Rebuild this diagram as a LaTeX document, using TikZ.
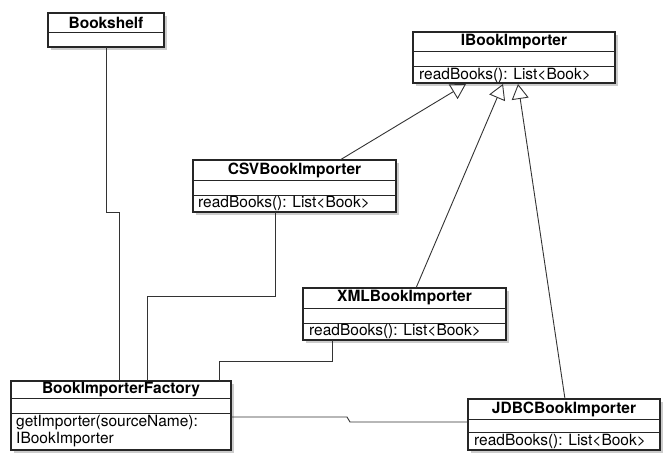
\documentclass[tikz,border=0pt]{standalone}
\usepackage{fontspec}
\setmainfont{TeX Gyre Heros}
\usetikzlibrary{arrows.meta,calc,shadows}
\begin{document}
\begin{tikzpicture}[x=1pt,y=-1pt,
  classbox/.style={draw=black!85, line width=1.1pt, fill=white, inner sep=0pt, outer sep=0pt,
    anchor=north west, drop shadow={opacity=0.4, shadow xshift=2.5pt, shadow yshift=-3pt}},
  divider/.style={draw=black!85, line width=0.9pt},
  titletext/.style={inner sep=0pt, font=\fontsize{15.5}{16}\selectfont\bfseries},
  methtext/.style={inner sep=0pt, anchor=west, font=\fontsize{15.5}{17}\selectfont},
  conn/.style={draw=black!80, line width=0.9pt},
  gen/.style={conn, -{Triangle[open, length=15pt, width=17pt, line width=0.9pt]}}
]
\useasboundingbox (0,0) rectangle (663,452);

% Bookshelf
\node[classbox, minimum width=116pt, minimum height=34pt] (shelf) at (48,13) {};
\draw[divider] (48,32) -- (164,32);
\node[titletext] (shelfT) at (106,22.5) {Bookshelf};

% IBookImporter
\node[classbox, minimum width=202pt, minimum height=51pt] (ib) at (413,32) {};
\draw[divider] (413,51) -- (615,51);
\draw[divider] (413,66) -- (615,66);
\node[titletext] (ibT) at (514,41.5) {IBookImporter};
\node[methtext] (ibM) at (419,75) {readBooks(): List<Book>};

% CSVBookImporter
\node[classbox, minimum width=203pt, minimum height=52pt] (csv) at (193,160) {};
\draw[divider] (193,180) -- (396,180);
\draw[divider] (193,195) -- (396,195);
\node[titletext] (csvT) at (294.5,170) {CSVBookImporter};
\node[methtext] (csvM) at (198,203.5) {readBooks(): List<Book>};

% XMLBookImporter
\node[classbox, minimum width=203pt, minimum height=52pt] (xml) at (303,288) {};
\draw[divider] (303,308) -- (506,308);
\draw[divider] (303,323) -- (506,323);
\node[titletext] (xmlT) at (404.5,298) {XMLBookImporter};
\node[methtext] (xmlM) at (309,331.5) {readBooks(): List<Book>};

% BookImporterFactory
\node[classbox, minimum width=220pt, minimum height=69pt] (fac) at (11,381) {};
\draw[divider] (11,398) -- (231,398);
\draw[divider] (11,413) -- (231,413);
\node[titletext] (facT) at (121,389.5) {BookImporterFactory};
\node[methtext, anchor=north west, align=left] (facM) at (16,415) {getImporter(sourceName):\\IBookImporter};

% JDBCBookImporter
\node[classbox, minimum width=192pt, minimum height=51pt] (jdbc) at (468,399) {};
\draw[divider] (468,419) -- (660,419);
\draw[divider] (468,432) -- (660,432);
\node[titletext] (jdbcT) at (564,409) {JDBCBookImporter};
\node[methtext] (jdbcM) at (474,441.5) {readBooks(): List<Book>};

% connectors
\draw[conn] (shelf.south) -- ++(0,165) -| ($(fac.north west)+(108,0)$);
\draw[conn] ($(csv.south west)+(82,0)$) -- ++(0,84) -| ($(fac.north west)+(136,0)$);
\draw[conn] ($(xml.south west)+(29,0)$) -- ++(0,21) -| ($(fac.north west)+(208,0)$);
\draw[conn] ($(fac.north east)+(0,36)$) -- ++(116,0) -- ++(3,5) -- ($(jdbc.north west)+(0,23)$);

% generalizations
\draw[gen] ($(csv.north west)+(147,0)$) -- ($(ib.south west)+(53,1)$);
\draw[gen] ($(xml.north west)+(113,0)$) -- ($(ib.south west)+(90,1)$);
\draw[gen] ($(jdbc.north west)+(97,0)$) -- ($(ib.south west)+(105,1)$);
\end{tikzpicture}
\end{document}
